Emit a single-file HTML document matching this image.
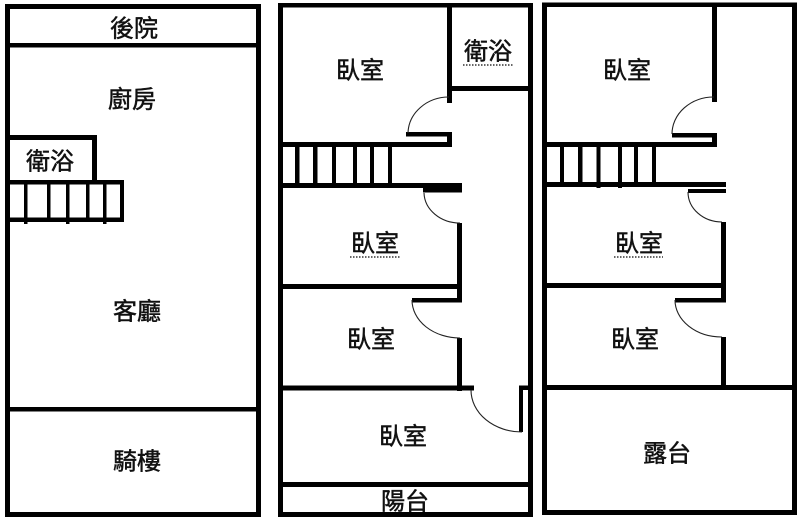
<!DOCTYPE html>
<html>
<head>
<meta charset="utf-8">
<style>
html,body{margin:0;padding:0;background:#fff;}
svg{display:block;}
text{font-family:"Liberation Sans","Noto Sans CJK TC","Noto Sans CJK SC",sans-serif;font-size:24px;fill:#111;stroke:#111;stroke-width:0.5px;text-anchor:middle;dominant-baseline:central;}
</style>
</head>
<body>
<svg width="800" height="520" viewBox="0 0 800 520" xmlns="http://www.w3.org/2000/svg">
<rect x="0" y="0" width="800" height="520" fill="#fff"/>
<g fill="#000">
<!-- Panel 1 -->
<rect x="5" y="4" width="256" height="5"/>
<rect x="5" y="512" width="256" height="5"/>
<rect x="5" y="4" width="5" height="513"/>
<rect x="256" y="4" width="5" height="513"/>
<rect x="8" y="43" width="250" height="4.5"/>
<rect x="8" y="407" width="250" height="4.5"/>
<!-- bath box -->
<rect x="8" y="135" width="89" height="5"/>
<rect x="92" y="135" width="5" height="47"/>
<!-- stairs -->
<rect x="8" y="180" width="116" height="4.5"/>
<rect x="8" y="217.5" width="116" height="4.5"/>
<rect x="120" y="180" width="4" height="42"/>
<rect x="24" y="180" width="3.5" height="44"/>
<rect x="47" y="180" width="3.5" height="42"/>
<rect x="66" y="180" width="3.5" height="44"/>
<rect x="86" y="180" width="3.5" height="42"/>
<rect x="103" y="180" width="3.5" height="44"/>

<!-- Panel 2 -->
<rect x="278" y="3" width="255" height="4.5"/>
<rect x="278" y="512" width="255" height="5"/>
<rect x="278" y="3" width="5" height="514"/>
<rect x="528" y="3" width="5" height="514"/>
<rect x="447" y="3" width="5" height="100"/>
<rect x="447" y="86" width="86" height="5"/>
<rect x="406" y="132" width="46" height="4.5"/>
<rect x="447" y="132" width="5" height="15"/>
<rect x="278" y="142" width="174" height="5"/>
<rect x="278" y="183" width="184" height="5"/>
<rect x="423" y="188" width="39" height="4.5"/>
<rect x="295" y="145" width="4.5" height="41"/>
<rect x="313" y="145" width="4.5" height="41"/>
<rect x="332" y="145" width="4" height="43"/>
<rect x="353" y="145" width="4" height="43"/>
<rect x="370" y="145" width="4" height="41"/>
<rect x="388" y="145" width="4" height="41"/>
<rect x="457" y="223" width="5" height="79"/>
<rect x="278" y="284" width="184" height="5"/>
<rect x="412" y="298" width="50" height="4.5"/>
<rect x="457" y="338" width="5" height="53"/>
<rect x="278" y="385.5" width="196" height="5"/>
<rect x="519" y="385.5" width="10" height="4.5"/>
<rect x="519" y="387" width="4" height="45"/>
<rect x="278" y="482" width="255" height="5"/>

<!-- Panel 3 -->
<rect x="542" y="2.5" width="255" height="4.5"/>
<rect x="542" y="510" width="255" height="5"/>
<rect x="542" y="2.5" width="5" height="512.5"/>
<rect x="792" y="2.5" width="5" height="512.5"/>
<rect x="712" y="3" width="5" height="99"/>
<rect x="672" y="133" width="45" height="4.5"/>
<rect x="712" y="133" width="5" height="14"/>
<rect x="542" y="142" width="175" height="5"/>
<rect x="542" y="182" width="184" height="5"/>
<rect x="688" y="189" width="38" height="4"/>
<rect x="560" y="145" width="4" height="41"/>
<rect x="578" y="145" width="4.5" height="41"/>
<rect x="596.5" y="145" width="4" height="43"/>
<rect x="618" y="145" width="4" height="43"/>
<rect x="634" y="145" width="4" height="41"/>
<rect x="652" y="145" width="4" height="41"/>
<rect x="721" y="222" width="5" height="80"/>
<rect x="542" y="283" width="184" height="5"/>
<rect x="675" y="298" width="51" height="4.5"/>
<rect x="721" y="337" width="5" height="53"/>
<rect x="542" y="385" width="255" height="5"/>
</g>

<!-- door arcs -->
<g fill="none" stroke="#222" stroke-width="1.1">
<path d="M449,97 A41,37 0 0 0 408,133"/>
<path d="M424,193 A36,31 0 0 0 460,223"/>
<path d="M412,300 A48,38 0 0 0 460,338"/>
<path d="M471,390 A51,42 0 0 0 522,432"/>
<path d="M714,97 A42,37 0 0 0 672,134"/>
<path d="M688,192 A34,30 0 0 0 722,222"/>
<path d="M675,300 A47,37 0 0 0 722,337"/>
</g>

<!-- dotted underlines -->
<g stroke="#333" stroke-width="1.5" stroke-dasharray="1.5 1.5">
<line x1="463" y1="65" x2="514" y2="65"/>
<line x1="350" y1="257" x2="400" y2="257"/>
<line x1="614" y1="257" x2="663" y2="257"/>
</g>

<!-- labels -->
<text x="134" y="29">後院</text>
<text x="132" y="100">廚房</text>
<text x="50" y="162">衛浴</text>
<text x="137" y="312">客廳</text>
<text x="137" y="462">騎樓</text>

<text x="360" y="71">臥室</text>
<text x="488" y="52">衛浴</text>
<text x="375" y="244">臥室</text>
<text x="371" y="340">臥室</text>
<text x="403" y="437">臥室</text>
<text x="405" y="502">陽台</text>

<text x="627" y="71">臥室</text>
<text x="639" y="244">臥室</text>
<text x="635" y="340">臥室</text>
<text x="667" y="454">露台</text>

<!-- re-draw bottom wall of panel 2 over clipped text -->
<rect x="278" y="512" width="255" height="5" fill="#000"/>
</svg>
</body>
</html>
